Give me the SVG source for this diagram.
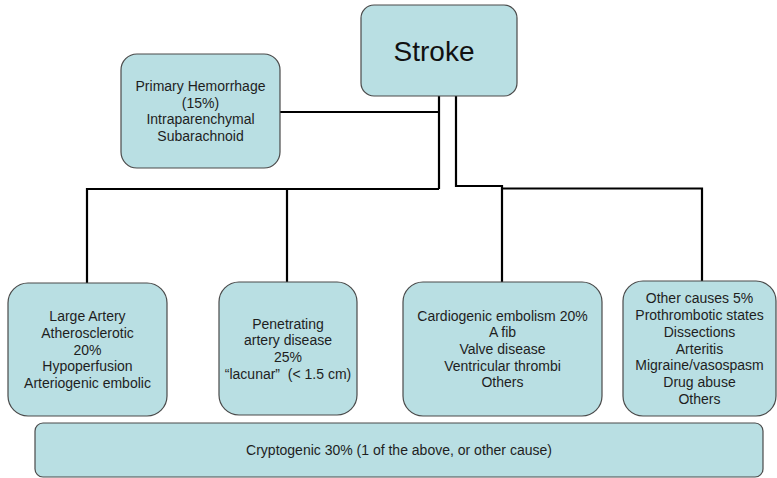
<svg xmlns="http://www.w3.org/2000/svg" width="777" height="478" viewBox="0 0 777 478">
<style>
.box{fill:#b9dfe3;stroke:#4a4a4a;stroke-width:1.2}
.t{font-family:"Liberation Sans",Arial,sans-serif;font-size:14px;fill:#1e1e1e;text-anchor:middle}
.title{font-family:"Liberation Sans",Arial,sans-serif;font-size:28px;fill:#111;text-anchor:middle}
.c{fill:none;stroke:#000;stroke-width:2.2}
</style>
<rect width="777" height="478" fill="#fff"/>
<g id="connectors">
<path class="c" d="M280,112 H439"/>
<path class="c" d="M439,96 V189"/>
<path class="c" d="M456,96 V186 H502 V282"/>
<path class="c" d="M87,283 V189 H439"/>
<path class="c" d="M287,282 V189"/>
<path class="c" d="M502,188.5 H702 V281"/>
</g>
<g id="stroke">
<rect class="box" x="361" y="5" width="156" height="91" rx="13"/>
<text class="title" x="434" y="61">Stroke</text>
</g>
<g id="hemorrhage">
<rect class="box" x="121" y="54" width="159" height="114" rx="16"/>
<text class="t" x="200.5" y="91">Primary Hemorrhage</text>
<text class="t" x="200.5" y="107.7">(15%)</text>
<text class="t" x="200.5" y="124.3">Intraparenchymal</text>
<text class="t" x="200.5" y="141">Subarachnoid</text>
</g>
<g id="large-artery">
<rect class="box" x="8" y="283" width="159" height="133" rx="20"/>
<text class="t" x="87.5" y="321">Large Artery</text>
<text class="t" x="87.5" y="337.8">Atherosclerotic</text>
<text class="t" x="87.5" y="354.5">20%</text>
<text class="t" x="87.5" y="371.2">Hypoperfusion</text>
<text class="t" x="87.5" y="387.9">Arteriogenic embolic</text>
</g>
<g id="penetrating">
<rect class="box" x="219" y="282" width="138" height="133" rx="20"/>
<text class="t" x="288" y="328.5">Penetrating</text>
<text class="t" x="288" y="345.2">artery disease</text>
<text class="t" x="288" y="361.9">25%</text>
<text class="t" x="288" y="378.6" style="white-space:pre">“lacunar”  (&lt; 1.5 cm)</text>
</g>
<g id="cardiogenic">
<rect class="box" x="403" y="282" width="199" height="134" rx="20"/>
<text class="t" x="502.5" y="320.6">Cardiogenic embolism 20%</text>
<text class="t" x="502.5" y="337.3">A fib</text>
<text class="t" x="502.5" y="354">Valve disease</text>
<text class="t" x="502.5" y="370.7">Ventricular thrombi</text>
<text class="t" x="502.5" y="387.4">Others</text>
</g>
<g id="other">
<rect class="box" x="623" y="281" width="153" height="135" rx="20"/>
<text class="t" x="699.5" y="303.4">Other causes 5%</text>
<text class="t" x="699.5" y="320.1">Prothrombotic states</text>
<text class="t" x="699.5" y="336.8">Dissections</text>
<text class="t" x="699.5" y="353.5">Arteritis</text>
<text class="t" x="699.5" y="370.2">Migraine/vasospasm</text>
<text class="t" x="699.5" y="386.9">Drug abuse</text>
<text class="t" x="699.5" y="403.6">Others</text>
</g>
<g id="cryptogenic">
<rect class="box" x="35" y="423" width="728" height="54" rx="8"/>
<text class="t" x="399" y="455">Cryptogenic 30% (1 of the above, or other cause)</text>
</g>
</svg>
